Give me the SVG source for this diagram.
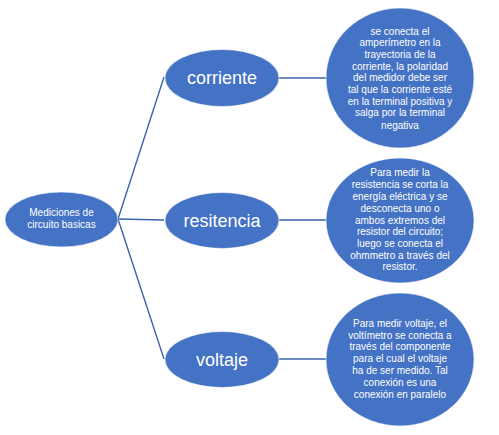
<svg xmlns="http://www.w3.org/2000/svg" width="499" height="435" viewBox="0 0 499 435">
<style>
.node{fill:#4472C4;stroke:#ffffff;stroke-width:1;stroke-opacity:0.6}
.lbl{fill:#ffffff;font-family:"Liberation Sans",Arial,sans-serif;text-anchor:middle}
.big{font-size:18px}
.small{font-size:10px}
.conn{stroke:#3C63AC;stroke-width:1.4;fill:none}
</style>
<rect width="499" height="435" fill="#ffffff"/>
<g id="connectors">
<line class="conn" x1="118" y1="219" x2="164" y2="77"/>
<line class="conn" x1="118" y1="219" x2="164" y2="220"/>
<line class="conn" x1="118" y1="219" x2="164" y2="359"/>
<line class="conn" x1="279" y1="78" x2="326" y2="78"/>
<line class="conn" x1="279" y1="220" x2="326" y2="220"/>
<line class="conn" x1="279" y1="359" x2="326" y2="359"/>
</g>
<g id="root">
<ellipse class="node" cx="61.5" cy="219.5" rx="56.5" ry="27.5"/>
<text class="lbl small" font-size="9.7"><tspan x="61.5" y="216">Mediciones de</tspan><tspan x="61.5" y="227.7">circuito basicas</tspan></text>
</g>
<g id="corriente">
<ellipse class="node" cx="222" cy="78" rx="57" ry="28.5"/>
<text class="lbl big" x="222" y="84">corriente</text>
</g>
<g id="resitencia">
<ellipse class="node" cx="222" cy="220.5" rx="57" ry="28"/>
<text class="lbl big" x="222" y="226.5">resitencia</text>
</g>
<g id="voltaje">
<ellipse class="node" cx="222" cy="359.5" rx="57" ry="28"/>
<text class="lbl big" x="222" y="365.5">voltaje</text>
</g>
<g id="desc-corriente">
<ellipse class="node" cx="400" cy="78" rx="74" ry="70"/>
<text class="lbl small"><tspan x="400" y="34.5">se conecta el</tspan><tspan x="400" y="46.2">amperímetro en la</tspan><tspan x="400" y="57.8">trayectoria de la</tspan><tspan x="400" y="69.5">corriente, la polaridad</tspan><tspan x="400" y="81.2">del medidor debe ser</tspan><tspan x="400" y="92.8">tal que la corriente esté</tspan><tspan x="400" y="104.5">en la terminal positiva y</tspan><tspan x="400" y="116.2">salga por la terminal</tspan><tspan x="400" y="128.5">negativa</tspan></text>
</g>
<g id="desc-resitencia">
<ellipse class="node" cx="400" cy="220.5" rx="74" ry="62.5"/>
<text class="lbl small"><tspan x="400" y="176.2">Para medir la</tspan><tspan x="400" y="187.8">resistencia se corta la</tspan><tspan x="400" y="199.5">energía eléctrica y se</tspan><tspan x="400" y="211.8">desconecta uno o</tspan><tspan x="400" y="223.5">ambos extremos del</tspan><tspan x="400" y="235.2">resistor del circuito;</tspan><tspan x="400" y="246.8">luego se conecta el</tspan><tspan x="400" y="258.5">ohmmetro a través del</tspan><tspan x="400" y="270.2">resistor.</tspan></text>
</g>
<g id="desc-voltaje">
<ellipse class="node" cx="400" cy="359.5" rx="74" ry="66.5"/>
<text class="lbl small"><tspan x="400" y="326.8">Para medir voltaje, el</tspan><tspan x="400" y="338.5">voltímetro se conecta a</tspan><tspan x="400" y="350.2">través del componente</tspan><tspan x="400" y="361.8">para el cual el voltaje</tspan><tspan x="400" y="373.5">ha de ser medido. Tal</tspan><tspan x="400" y="386.2">conexión es una</tspan><tspan x="400" y="397.5">conexión en paralelo</tspan></text>
</g>
</svg>
